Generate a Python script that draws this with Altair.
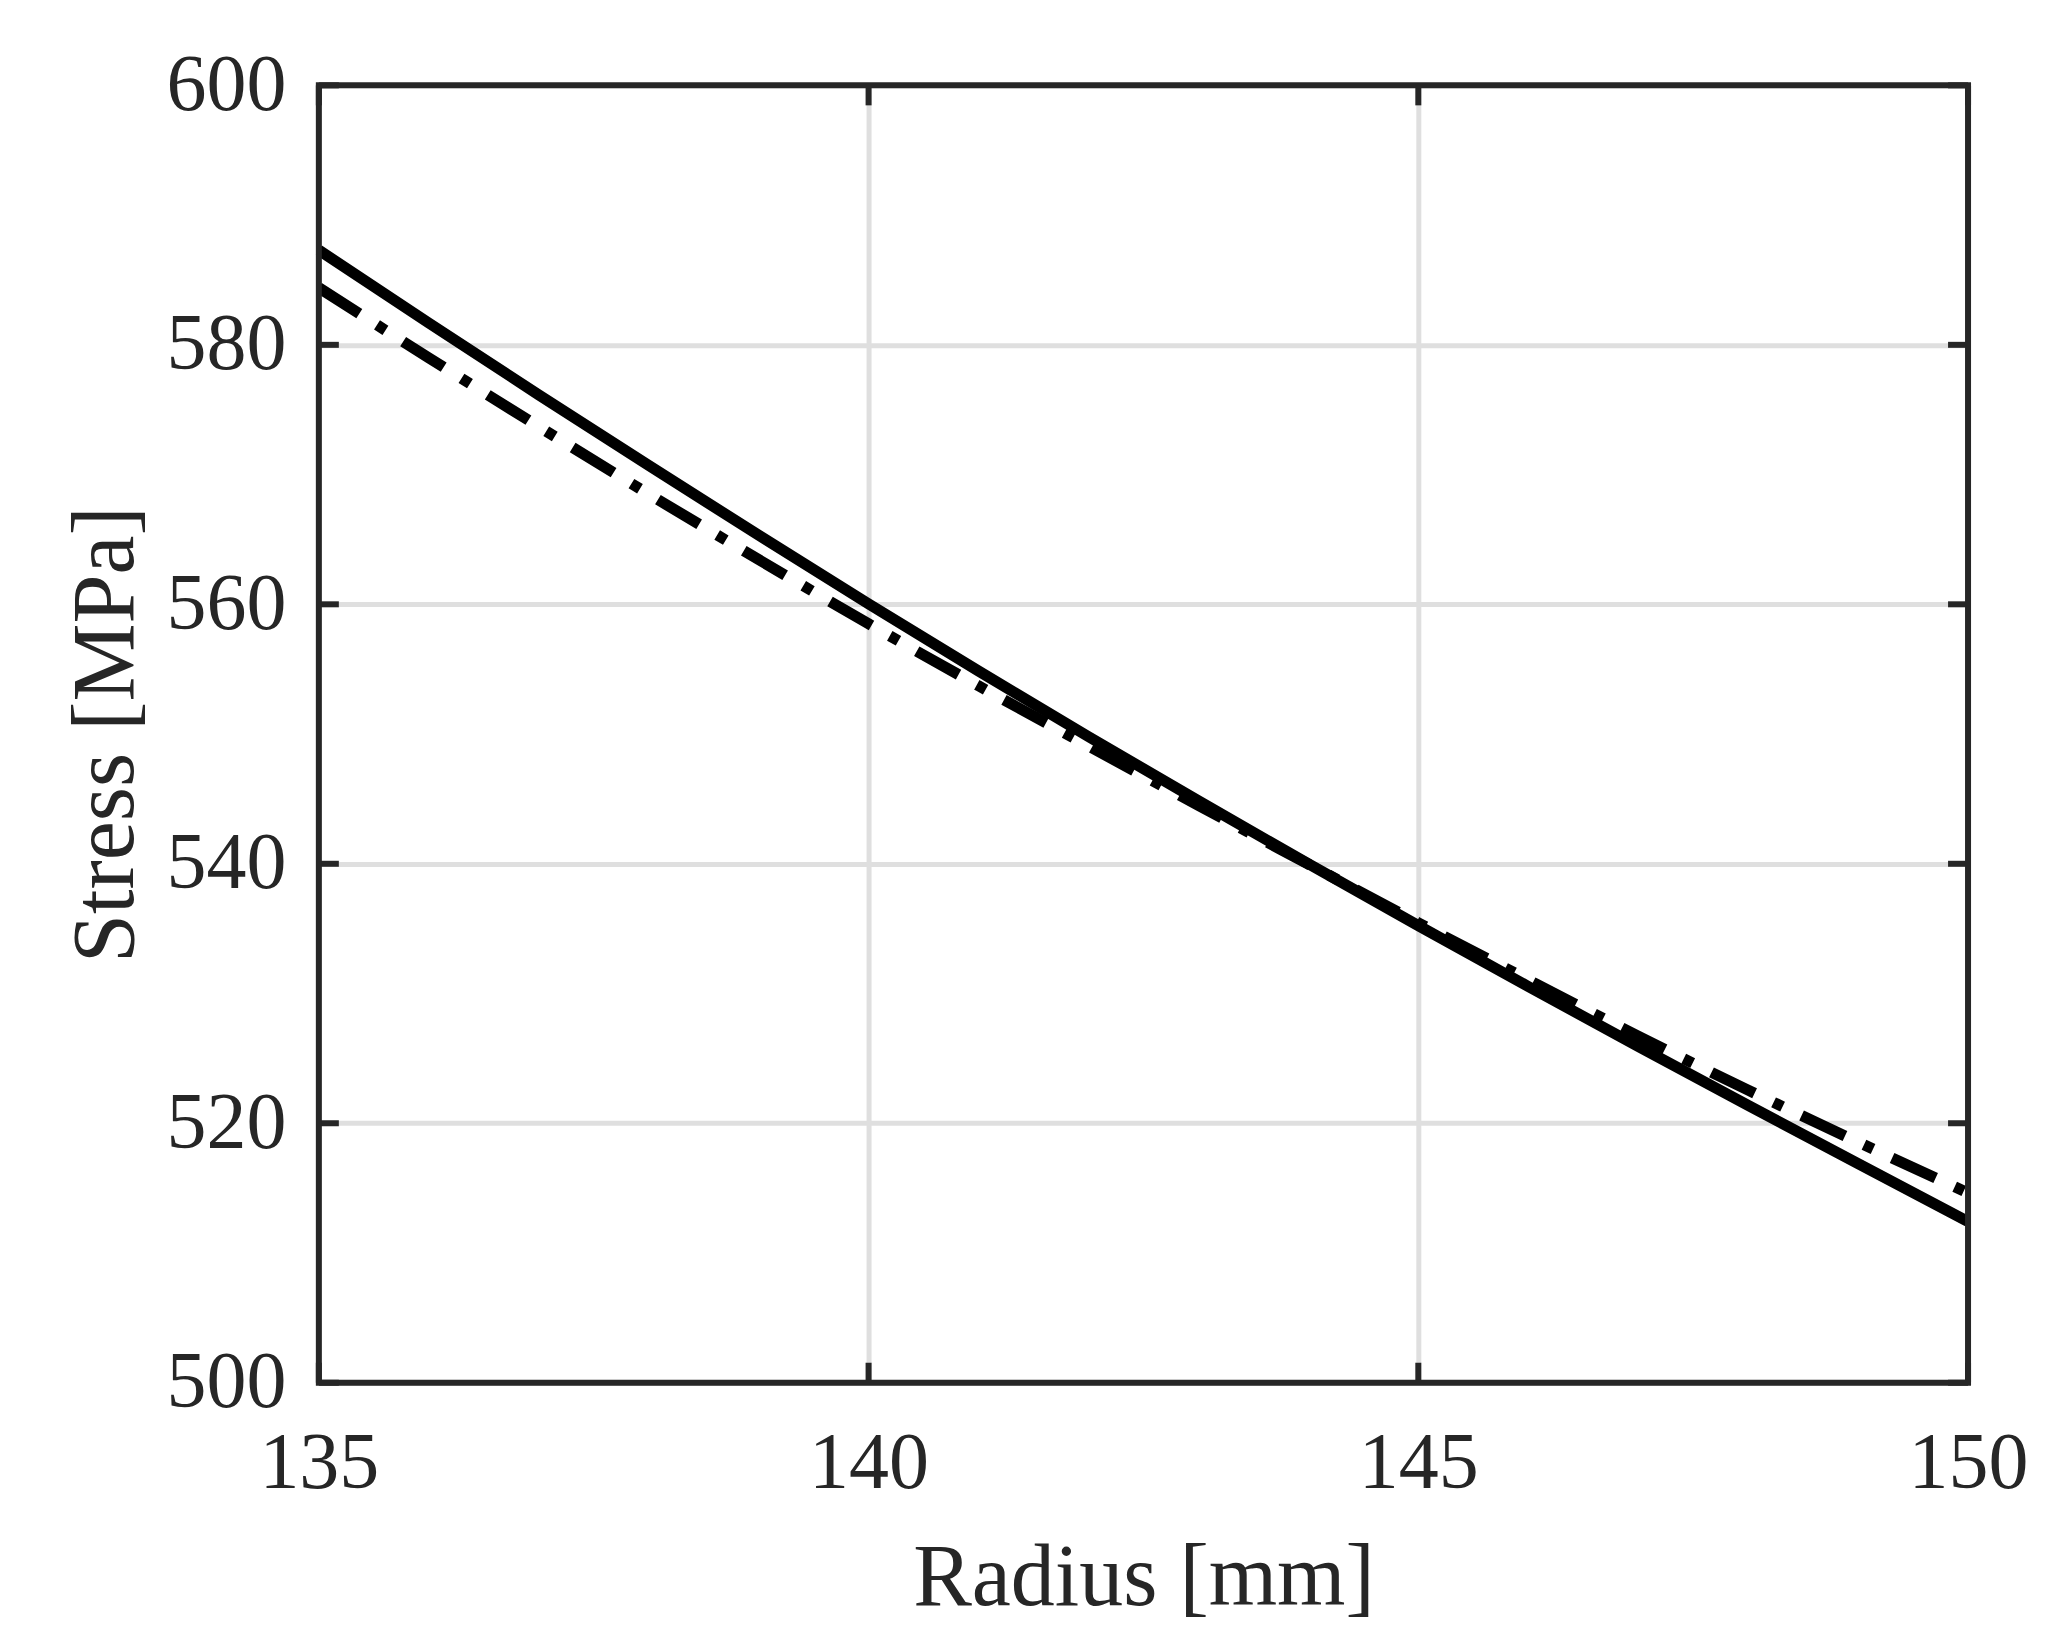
import altair as alt
import pandas as pd

# Radius [mm]
radius = [135, 136, 137, 138, 139, 140, 141, 142, 143, 144, 145, 146, 147, 148, 149, 150]
# Stress [MPa], solid curve
stress_solid = [587.3, 581.68, 576.15, 570.7, 565.33, 560.03, 554.86, 549.8, 544.85, 540.0,
                535.23, 530.54, 525.93, 521.38, 516.88, 512.43]
# Stress [MPa], dash-dot curve
stress_dashdot = [584.4, 579.0, 573.7, 568.5, 563.45, 558.5, 553.72, 549.08, 544.5, 539.97,
                  535.45, 531.05, 526.72, 522.55, 518.55, 514.63]

x_ticks = [135, 140, 145, 150]
y_ticks = [500, 520, 540, 560, 580, 600]

W, H = 1650, 1298
FONT = "Liberation Serif"
INK = "#262626"
TICK = 20

solid_df = pd.DataFrame({"r": radius, "s": stress_solid})
dash_df = pd.DataFrame({"r": radius, "s": stress_dashdot})
xt_df = pd.DataFrame({"r": x_ticks})
yt_df = pd.DataFrame({"s": y_ticks})
frame_df = pd.DataFrame({"k": [0]})

x_scale = alt.Scale(domain=[135, 150], nice=False, zero=False)
y_scale = alt.Scale(domain=[500, 600], nice=False, zero=False)

x_axis = alt.Axis(
    values=x_ticks, title="Radius [mm]", format="d",
    labelFont=FONT, labelFontSize=80, labelColor=INK, labelPadding=105,
    labelBaseline="alphabetic", labelFlush=False, labelOverlap=False, labelBound=False,
    ticks=False, domain=False,
    grid=True, gridColor="#dfdfdf", gridWidth=5,
    titleFont=FONT, titleFontSize=88, titleFontWeight="normal", titleColor=INK,
    titleBaseline="alphabetic", titleY=222, titleX=W / 2, titleAlign="center",
)
y_axis = alt.Axis(
    values=y_ticks, title="Stress [MPa]", format="d",
    labelFont=FONT, labelFontSize=80, labelColor=INK, labelPadding=33,
    labelFlush=False, labelOverlap=False, labelBound=False,
    ticks=False, domain=False,
    grid=True, gridColor="#dfdfdf", gridWidth=5,
    titleFont=FONT, titleFontSize=88, titleFontWeight="normal", titleColor=INK,
    titleAngle=-90, titleBaseline="alphabetic", titleX=-186, titleY=H / 2,
    titleAlign="center",
)

X = lambda: alt.X("r:Q", scale=x_scale, axis=x_axis)
Y = lambda: alt.Y("s:Q", scale=y_scale, axis=y_axis)

solid = alt.Chart(solid_df).mark_line(
    color="black", strokeWidth=11, strokeCap="butt", interpolate="monotone"
).encode(x=X(), y=Y())
dashdot = alt.Chart(dash_df).mark_line(
    color="black", strokeWidth=11, strokeCap="butt", interpolate="monotone",
    strokeDash=[48, 21, 10, 21]
).encode(x=X(), y=Y())

tick_style = dict(color=INK, strokeWidth=6)
bottom_ticks = alt.Chart(xt_df).mark_rule(**tick_style).encode(
    x=X(), y=alt.value(H), y2=alt.value(H - TICK)
)
top_ticks = alt.Chart(xt_df).mark_rule(**tick_style).encode(
    x=X(), y=alt.value(0), y2=alt.value(TICK)
)
left_ticks = alt.Chart(yt_df).mark_rule(**tick_style).encode(
    y=Y(), x=alt.value(0), x2=alt.value(TICK)
)
right_ticks = alt.Chart(yt_df).mark_rule(**tick_style).encode(
    y=Y(), x=alt.value(W), x2=alt.value(W - TICK)
)
frame = alt.Chart(frame_df).mark_rect(
    filled=False, stroke=INK, strokeWidth=6
).encode(x=alt.value(0), x2=alt.value(W), y=alt.value(0), y2=alt.value(H))

chart = alt.layer(
    dashdot, solid, bottom_ticks, top_ticks, left_ticks, right_ticks, frame
).properties(
    width=W, height=H,
    background="white",
    autosize=alt.AutoSizeParams(type="none"),
    padding={"left": 311, "top": 77, "right": 80, "bottom": 250},
).configure_view(
    strokeWidth=0
)

chart.save("out.html", embed_options={"renderer": "svg", "actions": False})
